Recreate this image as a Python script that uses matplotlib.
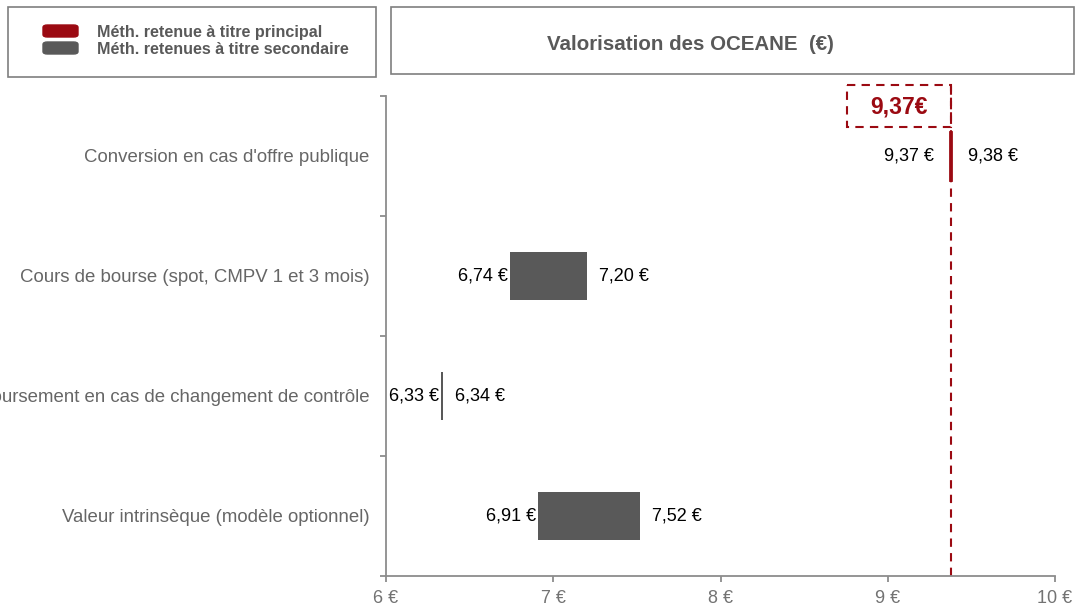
import numpy as np
import matplotlib.pyplot as plt
from matplotlib.patches import Rectangle, FancyBboxPatch

plt.rcParams['font.family'] = ['Liberation Sans', 'DejaVu Sans']

# data
categories = ["Conversion en cas d'offre publique",
              "Cours de bourse (spot, CMPV 1 et 3 mois)",
              "Remboursement en cas de changement de contrôle",
              "Valeur intrinsèque (modèle optionnel)"]
low_values = [9.37, 6.74, 6.33, 6.91]
high_values = [9.38, 7.20, 6.34, 7.52]
is_principal = [True, False, False, False]
retained_value = 9.37
x_ticks = [6, 7, 8, 9, 10]

red = '#9b0a12'
dark_gray = '#595959'
text_gray = '#666666'
axis_gray = '#8c8c8c'


def euro(v):
    return f"{v:.2f}".replace('.', ',') + " €"


fig = plt.figure(figsize=(10.81, 6.07), dpi=100)
ax = fig.add_axes([386 / 1081, 31 / 607, 669 / 1081, 480 / 607])

y = np.arange(len(categories))
widths = np.array(high_values) - np.array(low_values)
colors = [red if p else dark_gray for p in is_principal]

for yi, lo, w, c, p in zip(y, low_values, widths, colors, is_principal):
    ax.barh(yi, w, left=lo, height=0.4, color=c,
            edgecolor=c if p else 'none', linewidth=2 if p else 0, zorder=3)

for yi, lo, hi, p in zip(y, low_values, high_values, is_principal):
    left_gap = 11 if p else 1.5
    right_gap = 12 if p else 8.5
    ax.annotate(euro(lo), (lo, yi), xytext=(-left_gap, 0), textcoords='offset points',
                ha='right', va='center', fontsize=13, color='black')
    ax.annotate(euro(hi), (hi, yi), xytext=(right_gap, 0), textcoords='offset points',
                ha='left', va='center', fontsize=13, color='black')

ax.set_xlim(6, 10)
ax.set_ylim(3.5, -0.5)

# dashed line for the retained value
principal_hi = high_values[is_principal.index(True)]
ax.plot([principal_hi, principal_hi], [3.5, -0.59], linestyle=(0, (4, 3)),
        color=red, linewidth=1.5, clip_on=False, zorder=2)
box = Rectangle((8.755, -0.592), principal_hi - 8.755, 0.35, fill=False,
                edgecolor=red, linestyle=(0, (4, 3)), linewidth=1.5, clip_on=False)
ax.add_patch(box)
ax.text((8.755 + principal_hi) / 2, -0.405, euro(retained_value).replace(' ', ''),
        ha='center', va='center', fontsize=16.5, fontweight='bold', color=red)

# axes styling
for s in ['top', 'right']:
    ax.spines[s].set_visible(False)
for s in ['left', 'bottom']:
    ax.spines[s].set_color(axis_gray)
    ax.spines[s].set_linewidth(1.3)

ax.set_xticks(x_ticks)
ax.set_xticklabels([f"{t} €" for t in x_ticks])
ax.tick_params(axis='x', colors=axis_gray, labelcolor='#737373', labelsize=13,
               length=4, width=1.3, pad=6)

ax.set_yticks(np.arange(-0.5, len(categories), 1.0))
ax.set_yticklabels([])
ax.tick_params(axis='y', which='major', colors=axis_gray, length=4, width=1.3)
ax.set_yticks(y, minor=True)
ax.set_yticklabels(categories, minor=True)
ax.tick_params(axis='y', which='minor', length=0, pad=12, labelsize=13.4,
               labelcolor=text_gray)

# legend box
fig.patches.append(Rectangle((8 / 1081, 1 - 77 / 607), 368 / 1081, 70 / 607,
                             transform=fig.transFigure, fill=False,
                             edgecolor='#7f7f7f', linewidth=1.2))
for i, (c, lbl) in enumerate([(red, 'Méth. retenue à titre principal'),
                              (dark_gray, 'Méth. retenues à titre secondaire')]):
    yc = 31 + i * 17
    fig.patches.append(FancyBboxPatch((43 / 1081, 1 - (yc + 6) / 607), 35 / 1081, 12 / 607,
                                      boxstyle='round,pad=0,rounding_size=0.004',
                                      transform=fig.transFigure, color=c))
    fig.text(97 / 1081, 1 - (yc + 2) / 607, lbl, fontsize=11.6, fontweight='bold',
             color=dark_gray, ha='left', va='center')

# title box
fig.patches.append(Rectangle((391 / 1081, 1 - 74 / 607), 683 / 1081, 67 / 607,
                             transform=fig.transFigure, fill=False,
                             edgecolor='#7f7f7f', linewidth=1.2))
fig.text(690 / 1081, 1 - 44 / 607, 'Valorisation des OCEANE  (€)', fontsize=14.8,
         fontweight='bold', color=dark_gray, ha='center', va='center')

fig.savefig('out.png', dpi=100)
